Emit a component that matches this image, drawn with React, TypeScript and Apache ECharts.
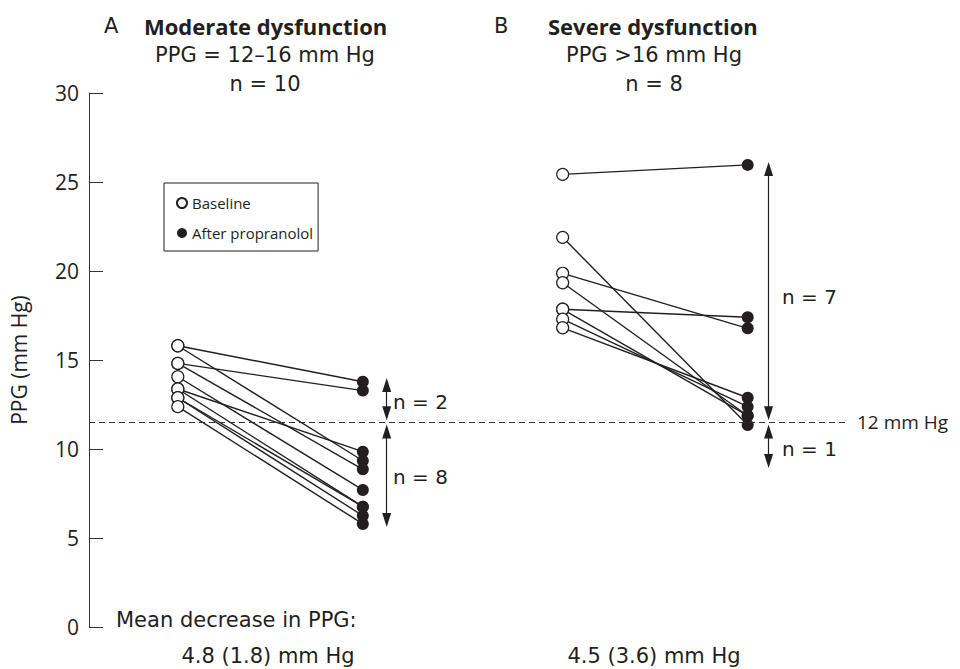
import React, { useEffect, useRef } from "react";
import * as echarts from "echarts";

// ---- data ----
const yTicks = { min: 0, max: 30, interval: 5 };
// x positions (value axis units) of the four columns
const xPositions = { aBase: 0, aAfter: 1, bBase: 2.08, bAfter: 3.08 };

// Panel A: moderate dysfunction (n = 10), pairs in same order
const aBaseline = [15.8, 15.8, 14.81, 14.81, 14.06, 13.37, 13.37, 12.88, 12.88, 12.38];
const aAfter = [13.78, 9.34, 13.28, 8.86, 7.7, 9.85, 6.76, 6.25, 6.76, 5.79];

// Panel B: severe dysfunction (n = 8)
const bBaseline = [25.43, 21.89, 19.87, 19.34, 17.85, 17.85, 17.29, 16.81];
const bAfter = [25.96, 11.35, 16.78, 11.87, 17.4, 11.87, 12.38, 12.88];

const thresholdValue = 11.5;
const thresholdLabel = "12 mm Hg";

// arrows: [from, to]
const arrowX = { a: 1.129, b: 3.193 };
const aArrowUpper = [13.99, 11.62];
const aArrowLower = [11.38, 5.62];
const bArrowUpper = [26.12, 11.62];
const bArrowLower = [11.38, 8.93];

const FONT = '"Open Sans", "DejaVu Sans", sans-serif';
const WIDE = '"DejaVu Sans", "Open Sans", sans-serif';
const INK = "#231f20";

export default function App() {
  const ref = useRef<HTMLDivElement>(null);

  useEffect(() => {
    if (!ref.current) return;
    const chart = echarts.init(ref.current, null, { renderer: "svg" });

    const headHalf = 7 / 17.8; // half arrow-head length in value units
    const arrow = (x: number, r: number[]) => [
      { coord: [x, r[0] - headHalf] },
      { coord: [x, r[1] + headHalf] },
    ];

    const txt = (
      text: string,
      x: number,
      y: number,
      opts: { align?: string; size?: number; weight?: string; family?: string } = {}
    ) => ({
      type: "text",
      x,
      y,
      silent: true,
      style: {
        text,
        fill: INK,
        fontFamily: opts.family ?? WIDE,
        fontSize: opts.size ?? 21,
        fontWeight: opts.weight ?? "normal",
        align: opts.align ?? "left",
        verticalAlign: "middle",
      },
    });

    const option: any = {
      animation: false,
      textStyle: { fontFamily: FONT, color: INK },
      grid: { left: 83, right: 115, top: 93, bottom: 42 },
      xAxis: {
        type: "value",
        min: -0.48,
        max: 3.606,
        show: false,
      },
      yAxis: {
        type: "value",
        min: yTicks.min,
        max: yTicks.max,
        interval: yTicks.interval,
        axisLine: { show: true, onZero: false, lineStyle: { color: "#333", width: 1 } },
        axisTick: { show: true, inside: true, length: 14, lineStyle: { color: "#333", width: 1 } },
        axisLabel: { fontSize: 21, color: INK, margin: 10, fontFamily: FONT },
        splitLine: { show: false },
        name: "PPG (mm Hg)",
        nameLocation: "middle",
        nameGap: 60,
        nameRotate: 90,
        nameTextStyle: { fontSize: 21, color: INK, fontFamily: FONT },
      },
      legend: {
        data: ["Baseline", "After propranolol"],
        orient: "vertical",
        left: 164,
        top: 183,
        padding: [11, 5, 9, 12],
        itemGap: 12,
        itemWidth: 10,
        itemHeight: 10,
        borderColor: INK,
        borderWidth: 1,
        borderRadius: 0,
        selectedMode: false,
        textStyle: { fontSize: 15, color: INK, lineHeight: 18, fontFamily: FONT },
      },
      series: [
        {
          type: "lines",
          coordinateSystem: "cartesian2d",
          silent: true,
          z: 1,
          lineStyle: { color: INK, width: 1.4, opacity: 1, curveness: 0 },
          data: aBaseline.map((b, i) => ({
            coords: [
              [xPositions.aBase, b],
              [xPositions.aAfter, aAfter[i]],
            ],
          })),
        },
        {
          type: "lines",
          coordinateSystem: "cartesian2d",
          silent: true,
          z: 1,
          lineStyle: { color: INK, width: 1.4, opacity: 1, curveness: 0 },
          data: bBaseline.map((b, i) => ({
            coords: [
              [xPositions.bBase, b],
              [xPositions.bAfter, bAfter[i]],
            ],
          })),
        },
        {
          type: "line",
          data: [],
          silent: true,
          z: 2,
          markLine: {
            silent: true,
            animation: false,
            symbol: ["none", "none"],
            lineStyle: { color: "#333", width: 1, type: [6, 4] },
            label: {
              show: true,
              position: "end",
              distance: 12,
              formatter: thresholdLabel,
              fontSize: 19,
              color: INK,
              fontFamily: FONT,
            },
            data: [{ yAxis: thresholdValue }],
          },
        },
        {
          type: "line",
          data: [],
          silent: true,
          z: 2,
          markLine: {
            silent: true,
            animation: false,
            symbol: ["triangle", "triangle"],
            symbolSize: [9, 14],
            lineStyle: { color: INK, width: 1.2, type: "solid" },
            label: { show: false },
            data: [
              arrow(arrowX.a, aArrowUpper),
              arrow(arrowX.a, aArrowLower),
              arrow(arrowX.b, bArrowUpper),
              arrow(arrowX.b, bArrowLower),
            ],
          },
        },
        {
          type: "scatter",
          name: "Baseline",
          z: 3,
          symbol: "circle",
          symbolSize: 12,
          itemStyle: { color: "#fff", borderColor: INK, borderWidth: 1.2, opacity: 1 },
          data: aBaseline.map((v) => [xPositions.aBase, v]),
        },
        {
          type: "scatter",
          name: "Baseline",
          z: 3,
          symbol: "circle",
          symbolSize: 12,
          itemStyle: { color: "#fff", borderColor: INK, borderWidth: 1.2, opacity: 1 },
          data: bBaseline.map((v) => [xPositions.bBase, v]),
        },
        {
          type: "scatter",
          name: "After propranolol",
          z: 4,
          symbol: "circle",
          symbolSize: 12,
          itemStyle: { color: INK, opacity: 1 },
          data: aAfter.map((v) => [xPositions.aAfter, v]),
        },
        {
          type: "scatter",
          name: "After propranolol",
          z: 4,
          symbol: "circle",
          symbolSize: 12,
          itemStyle: { color: INK, opacity: 1 },
          data: bAfter.map((v) => [xPositions.bAfter, v]),
        },
      ],
      graphic: [
        txt("A", 104, 26),
        txt("Moderate dysfunction", 144, 26, { size: 22, weight: "bold", family: FONT }),
        txt("PPG = 12–16 mm Hg", 265, 55, { align: "center" }),
        txt("n = 10", 265, 84, { align: "center" }),
        txt("B", 494, 26),
        txt("Severe dysfunction", 548, 26, { size: 22, weight: "bold", family: FONT }),
        txt("PPG >16 mm Hg", 654, 55, { align: "center" }),
        txt("n = 8", 654, 84, { align: "center" }),
        txt("n = 2", 393, 402, { size: 20 }),
        txt("n = 8", 393, 477, { size: 20 }),
        txt("n = 7", 782, 297, { size: 20 }),
        txt("n = 1", 782, 449, { size: 20 }),
        txt("Mean decrease in PPG:", 116, 620),
        txt("4.8 (1.8) mm Hg", 268, 656, { align: "center" }),
        txt("4.5 (3.6) mm Hg", 654, 656, { align: "center" }),
      ],
    };

    chart.setOption(option);
    return () => chart.dispose();
  }, []);

  return (
    <div
      ref={ref}
      style={{ position: "fixed", left: 0, top: 0, width: 960, height: 669, background: "#fff" }}
    />
  );
}
